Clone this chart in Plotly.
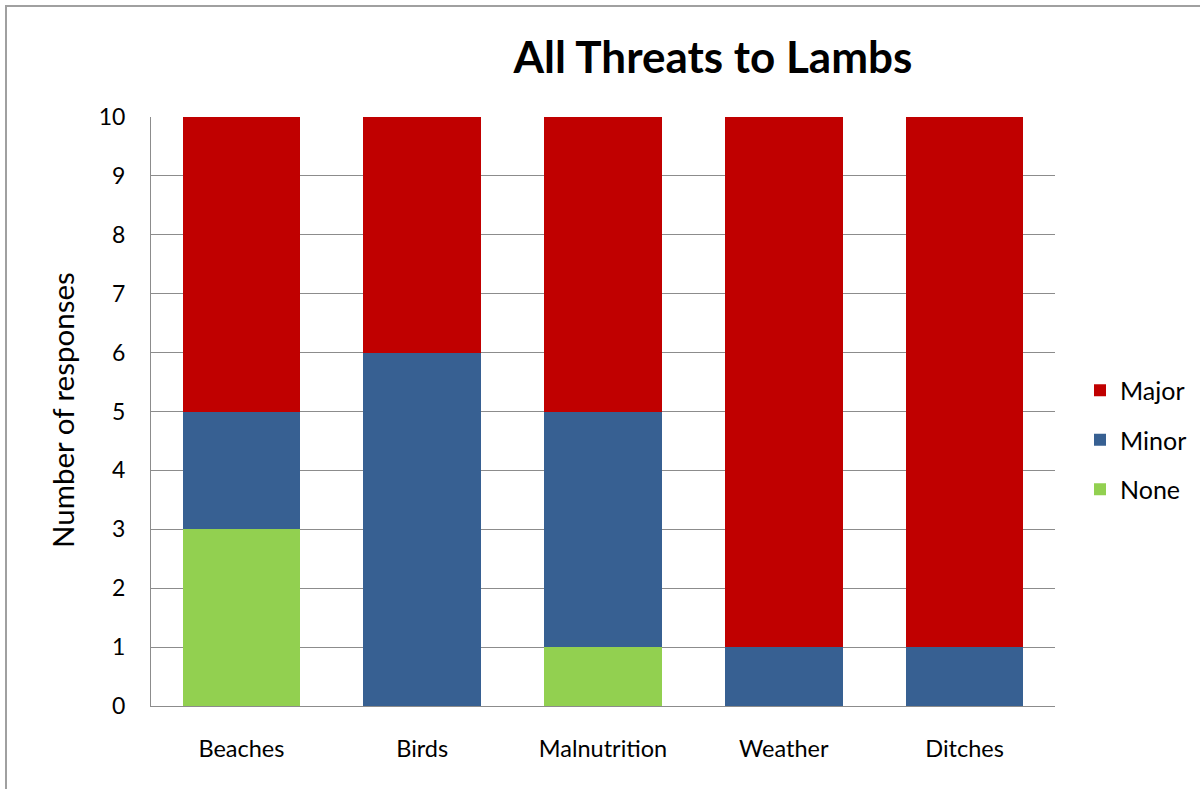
import plotly.graph_objects as go

categories = ["Beaches", "Birds", "Malnutrition", "Weather", "Ditches"]
none_vals = [3, 0, 1, 0, 0]
minor_vals = [2, 6, 4, 1, 1]
major_vals = [5, 4, 5, 9, 9]
y_ticks = list(range(0, 11))

FONT = "Lato"
W, H = 1200, 789
L, R, T, B = 151, 145, 117, 83
pw, ph = W - L - R, H - T - B

fig = go.Figure()
for name, vals, color, rank in [("None", none_vals, "#92D050", 3),
                                ("Minor", minor_vals, "#376092", 2),
                                ("Major", major_vals, "#C00000", 1)]:
    fig.add_trace(go.Bar(x=categories, y=vals, name=name, marker_color=color,
                         marker_line_width=0, legendgroup=name, legendrank=rank))

fig.update_layout(
    width=W, height=H,
    margin=dict(l=L, r=R, t=T, b=B, autoexpand=False),
    barmode="stack", bargap=0.35,
    plot_bgcolor="white", paper_bgcolor="white",
    font=dict(family=FONT, color="#000000"),
    title=dict(text="<b>All Threats to Lambs</b>", x=713 / W, xanchor="center",
               y=1 - 58 / H, yanchor="middle",
               font=dict(family=FONT, size=44, color="#000000")),
    showlegend=True,
    legend=dict(x=(1080 - L) / pw, xanchor="left", y=(706 - 440) / ph, yanchor="middle",
                traceorder="grouped", tracegroupgap=14,
                font=dict(family=FONT, size=25, color="#000000"),
                bgcolor="rgba(0,0,0,0)"),
    xaxis=dict(showgrid=False, showline=True, linecolor="#8c8c8c", linewidth=1,
               ticks="", tickfont=dict(size=23.5, family=FONT),
               ticklabelstandoff=22, fixedrange=True),
    yaxis=dict(range=[0, 10], tickvals=y_ticks, showgrid=True, gridcolor="#8c8c8c",
               gridwidth=1, showline=True, linecolor="#8c8c8c", linewidth=1,
               ticks="", tickfont=dict(size=23, family=FONT),
               ticklabelstandoff=20, zeroline=False, fixedrange=True),
    annotations=[dict(text="Number of responses", xref="paper", yref="paper",
                      x=(62 - L) / pw, y=(706 - 410) / ph, textangle=-90,
                      showarrow=False, xanchor="center", yanchor="middle",
                      font=dict(family=FONT, size=29.5, color="#000000"))],
    shapes=[dict(type="rect", xref="paper", yref="paper",
                 x0=(6 - L) / pw, x1=(1250 - L) / pw,
                 y0=(706 - 850) / ph, y1=(706 - 6) / ph,
                 line=dict(color="#a0a0a0", width=2), fillcolor="rgba(0,0,0,0)",
                 layer="below")],
)

fig.write_html("out.html")
